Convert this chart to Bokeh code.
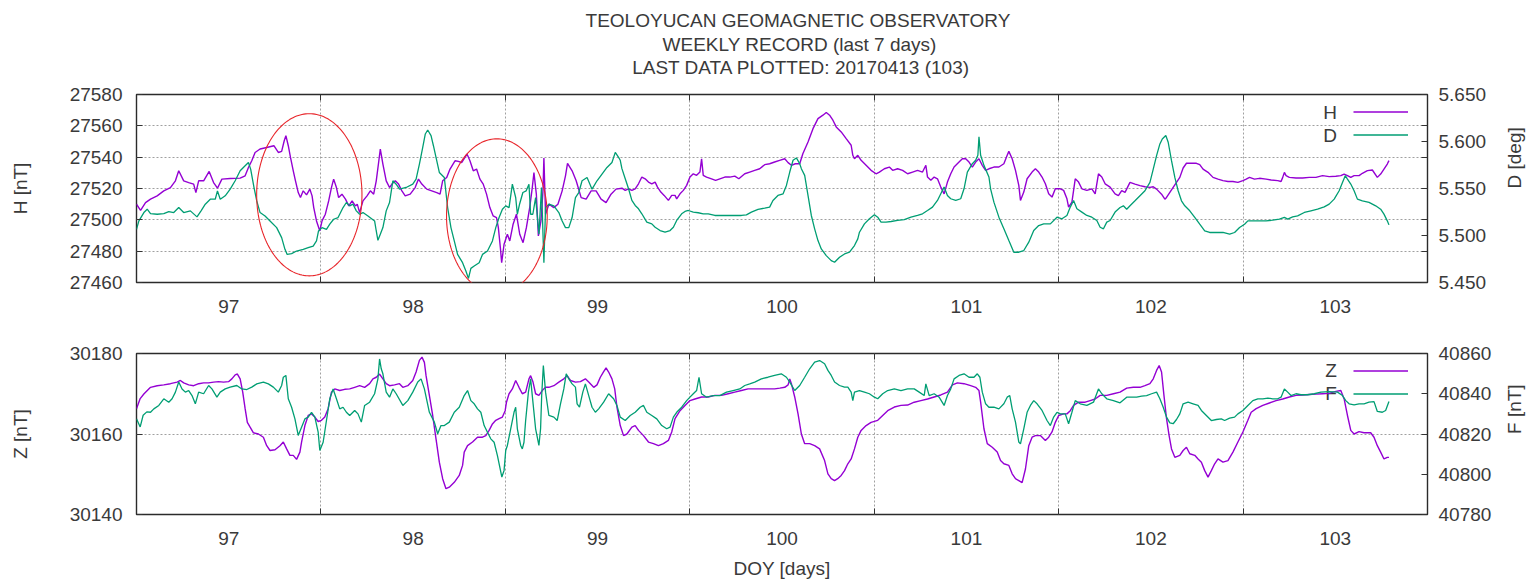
import numpy as np
from bokeh.plotting import figure
from bokeh.models import (Range1d, LinearAxis, FixedTicker, PrintfTickFormatter,
                          Label, PolyAnnotation, Legend, LegendItem)
from bokeh.layouts import column
from bokeh.embed import file_html
from bokeh.resources import INLINE

# ---------------------------------------------------------------- data
# Horizontal component H [nT] (day of year, value)
H_POINTS = [
    (96.500, 27510.0), (96.522, 27506.1), (96.549, 27511.0), (96.576, 27513.2), (96.612, 27515.3),
    (96.648, 27518.5), (96.684, 27520.6), (96.711, 27524.9), (96.729, 27531.3), (96.756, 27524.9),
    (96.783, 27523.8), (96.810, 27522.8), (96.822, 27517.4), (96.837, 27524.9), (96.864, 27524.9),
    (96.894, 27530.9), (96.918, 27523.8), (96.939, 27520.2), (96.963, 27526.0), (97.008, 27526.4),
    (97.062, 27526.6), (97.089, 27528.1), (97.107, 27533.4), (97.125, 27537.7), (97.143, 27543.0),
    (97.170, 27545.2), (97.206, 27546.2), (97.245, 27547.3), (97.269, 27543.0), (97.287, 27543.7),
    (97.301, 27550.5), (97.310, 27553.7), (97.323, 27547.3), (97.335, 27539.8), (97.350, 27531.3),
    (97.362, 27524.9), (97.377, 27517.4), (97.389, 27514.2), (97.404, 27518.5), (97.422, 27515.9),
    (97.440, 27519.6), (97.452, 27515.3), (97.461, 27507.8), (97.476, 27499.3), (97.494, 27492.9),
    (97.506, 27499.3), (97.524, 27503.6), (97.542, 27512.1), (97.557, 27520.6), (97.569, 27526.0),
    (97.584, 27520.6), (97.596, 27514.2), (97.614, 27516.4), (97.633, 27513.2), (97.651, 27508.9),
    (97.669, 27512.1), (97.687, 27508.9), (97.697, 27510.0), (97.710, 27504.6), (97.728, 27512.1),
    (97.750, 27515.3), (97.768, 27518.5), (97.786, 27516.4), (97.800, 27524.9), (97.814, 27537.7),
    (97.822, 27545.2), (97.836, 27535.6), (97.854, 27524.9), (97.872, 27520.6), (97.885, 27522.8),
    (97.903, 27524.9), (97.921, 27522.8), (97.939, 27518.5), (97.957, 27515.3), (97.984, 27516.4),
    (98.011, 27520.6), (98.029, 27526.0), (98.047, 27522.8), (98.074, 27519.6), (98.101, 27518.5),
    (98.128, 27517.4), (98.146, 27516.4), (98.160, 27524.9), (98.182, 27527.0), (98.200, 27532.4),
    (98.227, 27537.7), (98.245, 27537.3), (98.263, 27536.6), (98.281, 27539.8), (98.292, 27542.0),
    (98.308, 27537.7), (98.326, 27531.3), (98.344, 27532.4), (98.362, 27526.0), (98.380, 27522.8),
    (98.398, 27516.4), (98.416, 27507.8), (98.434, 27502.5), (98.452, 27501.4), (98.462, 27495.0),
    (98.473, 27482.2), (98.480, 27472.6), (98.493, 27484.4), (98.511, 27490.8), (98.524, 27486.5),
    (98.542, 27497.2), (98.560, 27503.6), (98.578, 27490.8), (98.596, 27485.4), (98.614, 27495.0),
    (98.632, 27507.8), (98.646, 27520.6), (98.655, 27530.2), (98.668, 27516.4), (98.679, 27489.7),
    (98.693, 27499.3), (98.704, 27518.5), (98.709, 27539.4), (98.718, 27503.6), (98.736, 27510.0),
    (98.763, 27507.8), (98.785, 27510.0), (98.808, 27518.5), (98.826, 27528.1), (98.837, 27536.0),
    (98.862, 27531.3), (98.884, 27524.9), (98.911, 27514.2), (98.938, 27513.2), (98.965, 27518.5),
    (98.992, 27518.5), (99.019, 27513.2), (99.046, 27511.0), (99.073, 27516.4), (99.100, 27519.6),
    (99.132, 27520.2), (99.150, 27518.8), (99.168, 27519.8), (99.186, 27518.8), (99.204, 27519.8),
    (99.222, 27523.0), (99.240, 27527.3), (99.258, 27526.2), (99.276, 27524.1), (99.294, 27523.0),
    (99.312, 27524.1), (99.325, 27520.9), (99.343, 27517.7), (99.361, 27515.6), (99.384, 27512.4),
    (99.402, 27515.6), (99.420, 27515.6), (99.429, 27513.4), (99.447, 27516.6), (99.465, 27518.8),
    (99.483, 27522.0), (99.501, 27527.3), (99.519, 27529.4), (99.537, 27528.4), (99.555, 27530.5),
    (99.564, 27539.0), (99.573, 27528.4), (99.591, 27527.3), (99.618, 27526.2), (99.640, 27525.2),
    (99.663, 27526.2), (99.690, 27527.3), (99.717, 27527.3), (99.744, 27527.9), (99.766, 27526.2),
    (99.798, 27529.4), (99.825, 27530.5), (99.852, 27531.6), (99.879, 27532.6), (99.906, 27535.2),
    (99.933, 27535.8), (99.960, 27536.9), (99.987, 27538.0), (100.015, 27539.0), (100.033, 27536.5),
    (100.051, 27534.8), (100.072, 27535.8), (100.096, 27535.8), (100.113, 27542.2), (100.141, 27549.7),
    (100.168, 27558.2), (100.195, 27564.6), (100.222, 27566.8), (100.240, 27568.5), (100.258, 27566.8),
    (100.276, 27563.6), (100.294, 27559.3), (100.321, 27556.1), (100.348, 27551.8), (100.375, 27547.6),
    (100.384, 27541.2), (100.393, 27539.0), (100.411, 27541.2), (100.429, 27538.0), (100.456, 27534.8),
    (100.483, 27531.6), (100.510, 27529.4), (100.528, 27530.5), (100.555, 27532.6), (100.582, 27533.7),
    (100.600, 27531.6), (100.627, 27532.6), (100.654, 27531.6), (100.681, 27529.4), (100.708, 27530.5),
    (100.735, 27531.6), (100.762, 27530.5), (100.780, 27534.8), (100.789, 27527.3), (100.807, 27525.2),
    (100.825, 27527.3), (100.843, 27526.2), (100.861, 27520.9), (100.879, 27516.6), (100.897, 27524.1),
    (100.915, 27529.4), (100.933, 27533.7), (100.960, 27536.9), (100.978, 27539.0), (100.996, 27539.0),
    (101.014, 27536.9), (101.032, 27533.7), (101.050, 27536.9), (101.068, 27539.0), (101.086, 27534.8),
    (101.104, 27531.6), (101.122, 27532.6), (101.149, 27533.7), (101.176, 27533.7), (101.203, 27535.8),
    (101.221, 27541.2), (101.230, 27543.7), (101.248, 27539.0), (101.266, 27531.6), (101.284, 27522.0),
    (101.293, 27512.4), (101.311, 27517.7), (101.329, 27526.2), (101.356, 27530.5), (101.374, 27532.6),
    (101.392, 27530.5), (101.410, 27527.3), (101.428, 27523.0), (101.446, 27516.6), (101.464, 27514.5),
    (101.482, 27519.8), (101.509, 27519.8), (101.527, 27518.8), (101.545, 27513.4), (101.554, 27508.1),
    (101.572, 27511.3), (101.590, 27526.2), (101.608, 27524.1), (101.626, 27519.8), (101.653, 27518.8),
    (101.680, 27519.8), (101.698, 27516.6), (101.716, 27529.4), (101.734, 27527.3), (101.752, 27523.0),
    (101.779, 27520.9), (101.806, 27516.6), (101.824, 27515.4), (101.842, 27518.6), (101.860, 27517.5),
    (101.878, 27521.8), (101.887, 27523.9), (101.914, 27522.8), (101.941, 27521.8), (101.968, 27521.1),
    (101.995, 27520.7), (102.013, 27521.1), (102.031, 27519.6), (102.058, 27516.4), (102.076, 27513.2),
    (102.085, 27514.3), (102.103, 27517.5), (102.121, 27520.7), (102.139, 27523.9), (102.157, 27527.1),
    (102.175, 27533.1), (102.193, 27536.1), (102.220, 27536.1), (102.247, 27536.1), (102.265, 27535.2),
    (102.283, 27532.4), (102.310, 27530.3), (102.337, 27527.1), (102.364, 27526.0), (102.391, 27525.0),
    (102.418, 27524.5), (102.445, 27524.5), (102.472, 27523.9), (102.499, 27525.0), (102.517, 27526.0),
    (102.535, 27527.1), (102.562, 27526.0), (102.589, 27526.5), (102.625, 27526.0), (102.652, 27525.4),
    (102.688, 27525.0), (102.706, 27524.5), (102.715, 27527.1), (102.724, 27530.3), (102.733, 27528.2),
    (102.751, 27527.1), (102.787, 27526.7), (102.823, 27526.7), (102.859, 27527.1), (102.895, 27527.1),
    (102.931, 27528.2), (102.967, 27527.6), (103.003, 27527.8), (103.030, 27528.2), (103.048, 27529.2),
    (103.066, 27528.2), (103.084, 27527.1), (103.102, 27528.2), (103.129, 27528.2), (103.147, 27529.7),
    (103.174, 27531.4), (103.201, 27531.8), (103.228, 27527.1), (103.246, 27529.2), (103.264, 27532.4),
    (103.282, 27535.6), (103.291, 27537.8),
]

# Declination D [deg]
D_POINTS = [
    (96.500, 5.5066), (96.513, 5.5155), (96.540, 5.5244), (96.558, 5.5280), (96.576, 5.5233),
    (96.612, 5.5226), (96.648, 5.5233), (96.675, 5.5255), (96.702, 5.5244), (96.729, 5.5297),
    (96.756, 5.5244), (96.792, 5.5262), (96.828, 5.5198), (96.850, 5.5262), (96.873, 5.5333),
    (96.900, 5.5386), (96.927, 5.5386), (96.939, 5.5475), (96.954, 5.5386), (96.981, 5.5422),
    (97.008, 5.5493), (97.035, 5.5582), (97.062, 5.5688), (97.089, 5.5742), (97.107, 5.5777),
    (97.119, 5.5706), (97.137, 5.5511), (97.152, 5.5368), (97.170, 5.5244), (97.197, 5.5208),
    (97.224, 5.5155), (97.260, 5.5084), (97.287, 5.4977), (97.305, 5.4853), (97.317, 5.4799),
    (97.341, 5.4807), (97.368, 5.4835), (97.404, 5.4853), (97.431, 5.4871), (97.458, 5.4888),
    (97.476, 5.4942), (97.487, 5.5048), (97.506, 5.5084), (97.530, 5.5066), (97.548, 5.5120),
    (97.569, 5.5173), (97.593, 5.5191), (97.620, 5.5297), (97.638, 5.5351), (97.656, 5.5315),
    (97.674, 5.5333), (97.692, 5.5262), (97.710, 5.5226), (97.728, 5.5244), (97.755, 5.5208),
    (97.791, 5.5155), (97.800, 5.5048), (97.809, 5.4949), (97.822, 5.5013), (97.836, 5.5084),
    (97.854, 5.5262), (97.872, 5.5351), (97.890, 5.5582), (97.908, 5.5546), (97.926, 5.5493),
    (97.962, 5.5511), (97.998, 5.5546), (98.016, 5.5600), (98.034, 5.5760), (98.052, 5.5937),
    (98.066, 5.6080), (98.079, 5.6122), (98.097, 5.6062), (98.110, 5.5955), (98.124, 5.5831),
    (98.142, 5.5671), (98.169, 5.5617), (98.187, 5.5297), (98.205, 5.5084), (98.223, 5.4942),
    (98.241, 5.4799), (98.268, 5.4711), (98.286, 5.4622), (98.300, 5.4543), (98.313, 5.4650),
    (98.331, 5.4675), (98.358, 5.4711), (98.376, 5.4799), (98.403, 5.4835), (98.430, 5.4942),
    (98.448, 5.5084), (98.466, 5.5191), (98.484, 5.5280), (98.502, 5.5315), (98.520, 5.5297),
    (98.538, 5.5546), (98.556, 5.5404), (98.565, 5.5226), (98.577, 5.5333), (98.595, 5.5457),
    (98.613, 5.5475), (98.628, 5.5546), (98.637, 5.5226), (98.649, 5.5226), (98.664, 5.5404),
    (98.682, 5.5013), (98.696, 5.5511), (98.709, 5.4711), (98.718, 5.5297), (98.736, 5.5333),
    (98.763, 5.5315), (98.790, 5.5244), (98.808, 5.5155), (98.826, 5.5084), (98.844, 5.5084),
    (98.862, 5.5191), (98.880, 5.5404), (98.898, 5.5457), (98.916, 5.5582), (98.943, 5.5617),
    (98.970, 5.5493), (98.997, 5.5582), (99.024, 5.5653), (99.051, 5.5724), (99.078, 5.5777),
    (99.096, 5.5884), (99.114, 5.5831), (99.123, 5.5800), (99.132, 5.5711), (99.150, 5.5604),
    (99.168, 5.5497), (99.186, 5.5373), (99.204, 5.5320), (99.222, 5.5284), (99.240, 5.5231),
    (99.267, 5.5142), (99.294, 5.5124), (99.312, 5.5088), (99.339, 5.5053), (99.366, 5.5035),
    (99.393, 5.5053), (99.411, 5.5088), (99.429, 5.5160), (99.456, 5.5231), (99.474, 5.5256),
    (99.492, 5.5266), (99.519, 5.5249), (99.546, 5.5242), (99.573, 5.5231), (99.600, 5.5231),
    (99.636, 5.5213), (99.672, 5.5213), (99.708, 5.5213), (99.744, 5.5213), (99.780, 5.5213),
    (99.807, 5.5220), (99.834, 5.5249), (99.870, 5.5277), (99.906, 5.5291), (99.933, 5.5302),
    (99.951, 5.5373), (99.978, 5.5426), (100.006, 5.5444), (100.024, 5.5533), (100.042, 5.5675),
    (100.060, 5.5800), (100.078, 5.5825), (100.096, 5.5764), (100.105, 5.5711), (100.123, 5.5640),
    (100.141, 5.5426), (100.159, 5.5213), (100.177, 5.5071), (100.195, 5.4946), (100.213, 5.4857),
    (100.240, 5.4786), (100.267, 5.4733), (100.285, 5.4715), (100.312, 5.4768), (100.339, 5.4804),
    (100.366, 5.4822), (100.393, 5.4893), (100.411, 5.4964), (100.420, 5.5035), (100.447, 5.5124),
    (100.474, 5.5178), (100.501, 5.5220), (100.519, 5.5195), (100.537, 5.5142), (100.564, 5.5142),
    (100.591, 5.5149), (100.627, 5.5160), (100.663, 5.5170), (100.699, 5.5195), (100.735, 5.5213),
    (100.762, 5.5231), (100.789, 5.5266), (100.816, 5.5302), (100.843, 5.5373), (100.861, 5.5444),
    (100.879, 5.5515), (100.897, 5.5426), (100.915, 5.5391), (100.942, 5.5373), (100.969, 5.5391),
    (100.987, 5.5497), (101.005, 5.5675), (101.032, 5.5764), (101.050, 5.5800), (101.062, 5.5853),
    (101.068, 5.6049), (101.077, 5.5853), (101.095, 5.5746), (101.122, 5.5622), (101.131, 5.5497),
    (101.149, 5.5355), (101.176, 5.5195), (101.203, 5.5071), (101.230, 5.4946), (101.257, 5.4822),
    (101.284, 5.4822), (101.311, 5.4840), (101.338, 5.4929), (101.365, 5.5053), (101.392, 5.5106),
    (101.419, 5.5124), (101.455, 5.5124), (101.491, 5.5195), (101.518, 5.5178), (101.545, 5.5213),
    (101.563, 5.5302), (101.581, 5.5373), (101.599, 5.5284), (101.626, 5.5249), (101.653, 5.5213),
    (101.680, 5.5195), (101.707, 5.5160), (101.725, 5.5088), (101.743, 5.5071), (101.761, 5.5142),
    (101.779, 5.5160), (101.806, 5.5249), (101.833, 5.5298), (101.851, 5.5316), (101.869, 5.5280),
    (101.887, 5.5316), (101.914, 5.5369), (101.941, 5.5423), (101.968, 5.5476), (101.995, 5.5565),
    (102.013, 5.5707), (102.031, 5.5849), (102.049, 5.5974), (102.062, 5.6027), (102.081, 5.6063),
    (102.094, 5.5992), (102.112, 5.5796), (102.130, 5.5618), (102.148, 5.5476), (102.166, 5.5369),
    (102.184, 5.5316), (102.211, 5.5263), (102.238, 5.5192), (102.265, 5.5120), (102.292, 5.5049),
    (102.319, 5.5032), (102.355, 5.5032), (102.391, 5.5032), (102.427, 5.5014), (102.454, 5.5032),
    (102.481, 5.5085), (102.508, 5.5120), (102.526, 5.5156), (102.553, 5.5156), (102.589, 5.5156),
    (102.625, 5.5156), (102.661, 5.5163), (102.697, 5.5174), (102.724, 5.5192), (102.742, 5.5174),
    (102.769, 5.5199), (102.796, 5.5209), (102.832, 5.5245), (102.868, 5.5263), (102.904, 5.5280),
    (102.940, 5.5305), (102.967, 5.5334), (102.994, 5.5387), (103.021, 5.5476), (103.039, 5.5565),
    (103.054, 5.5636), (103.066, 5.5600), (103.084, 5.5547), (103.102, 5.5476), (103.120, 5.5387),
    (103.147, 5.5369), (103.183, 5.5352), (103.219, 5.5316), (103.246, 5.5280), (103.264, 5.5227),
    (103.282, 5.5156), (103.291, 5.5113),
]

# Vertical component Z [nT]
Z_POINTS = [
    (96.500, 30166.3), (96.520, 30168.8), (96.541, 30170.0), (96.576, 30171.6), (96.612, 30172.0),
    (96.648, 30172.2), (96.684, 30172.5), (96.720, 30172.9), (96.738, 30173.3), (96.756, 30172.7),
    (96.783, 30172.2), (96.810, 30172.0), (96.837, 30172.5), (96.864, 30172.7), (96.891, 30172.7),
    (96.918, 30172.9), (96.945, 30173.0), (96.972, 30172.9), (96.999, 30173.0), (97.017, 30173.7),
    (97.035, 30174.7), (97.047, 30174.9), (97.062, 30173.7), (97.076, 30170.4), (97.089, 30166.3),
    (97.101, 30162.9), (97.116, 30161.7), (97.134, 30160.3), (97.161, 30160.0), (97.188, 30159.2),
    (97.206, 30157.1), (97.224, 30155.9), (97.251, 30156.1), (97.278, 30157.1), (97.296, 30158.0),
    (97.314, 30156.3), (97.332, 30154.7), (97.350, 30154.7), (97.368, 30153.7), (97.386, 30155.5),
    (97.395, 30158.0), (97.413, 30162.1), (97.431, 30164.6), (97.449, 30165.0), (97.467, 30164.2),
    (97.485, 30163.1), (97.503, 30163.4), (97.521, 30164.2), (97.539, 30166.3), (97.557, 30170.4),
    (97.575, 30171.2), (97.602, 30170.8), (97.629, 30171.1), (97.656, 30171.2), (97.683, 30171.6),
    (97.710, 30172.0), (97.737, 30171.6), (97.764, 30172.5), (97.782, 30173.7), (97.800, 30174.1),
    (97.818, 30174.9), (97.836, 30173.7), (97.854, 30172.5), (97.872, 30172.0), (97.899, 30172.2),
    (97.926, 30172.5), (97.944, 30171.6), (97.971, 30172.0), (97.998, 30173.3), (98.016, 30175.4),
    (98.034, 30178.3), (98.048, 30179.1), (98.061, 30177.8), (98.070, 30174.5), (98.088, 30169.6),
    (98.106, 30164.6), (98.124, 30158.8), (98.142, 30153.0), (98.160, 30148.9), (98.178, 30146.4),
    (98.196, 30146.8), (98.223, 30148.0), (98.250, 30149.7), (98.268, 30152.2), (98.277, 30155.5),
    (98.295, 30157.1), (98.322, 30158.0), (98.349, 30159.2), (98.376, 30159.2), (98.394, 30159.6),
    (98.412, 30160.9), (98.430, 30162.5), (98.448, 30163.4), (98.466, 30163.8), (98.484, 30164.2),
    (98.499, 30165.8), (98.506, 30167.9), (98.520, 30170.0), (98.538, 30171.2), (98.556, 30173.3),
    (98.574, 30171.6), (98.592, 30170.0), (98.610, 30170.4), (98.628, 30173.7), (98.637, 30174.5),
    (98.650, 30172.9), (98.664, 30170.0), (98.682, 30169.6), (98.700, 30170.8), (98.718, 30171.6),
    (98.736, 30171.6), (98.763, 30172.0), (98.790, 30172.9), (98.817, 30173.7), (98.835, 30174.5),
    (98.853, 30173.3), (98.880, 30172.9), (98.907, 30173.0), (98.934, 30173.7), (98.952, 30172.9),
    (98.979, 30171.6), (98.997, 30172.2), (99.015, 30174.1), (99.033, 30175.5), (99.046, 30176.4),
    (99.060, 30175.4), (99.078, 30173.7), (99.093, 30171.2), (99.105, 30166.7), (99.123, 30162.1),
    (99.141, 30159.6), (99.159, 30160.0), (99.186, 30161.7), (99.204, 30162.1), (99.222, 30160.9),
    (99.249, 30159.6), (99.276, 30158.0), (99.303, 30157.6), (99.330, 30157.1), (99.357, 30157.6),
    (99.384, 30158.4), (99.402, 30160.5), (99.420, 30163.8), (99.447, 30165.8), (99.474, 30167.1),
    (99.501, 30168.3), (99.528, 30168.7), (99.564, 30169.2), (99.600, 30169.2), (99.636, 30169.6),
    (99.672, 30169.6), (99.708, 30170.0), (99.744, 30170.4), (99.780, 30170.8), (99.816, 30171.2),
    (99.852, 30171.2), (99.888, 30171.2), (99.924, 30171.2), (99.960, 30171.2), (99.988, 30171.4),
    (100.015, 30171.6), (100.033, 30172.2), (100.042, 30173.7), (100.051, 30172.5), (100.069, 30169.2),
    (100.087, 30165.0), (100.105, 30160.0), (100.123, 30157.6), (100.150, 30157.6), (100.177, 30157.1),
    (100.204, 30156.3), (100.231, 30153.4), (100.249, 30150.1), (100.267, 30148.9), (100.285, 30148.4),
    (100.302, 30148.9), (100.321, 30149.7), (100.339, 30150.9), (100.357, 30152.6), (100.375, 30153.8),
    (100.393, 30156.3), (100.411, 30159.2), (100.429, 30160.9), (100.456, 30162.1), (100.483, 30162.9),
    (100.519, 30163.4), (100.546, 30164.6), (100.573, 30165.8), (100.609, 30166.7), (100.645, 30167.1),
    (100.681, 30167.2), (100.717, 30167.9), (100.753, 30168.3), (100.789, 30168.7), (100.825, 30169.2),
    (100.861, 30169.7), (100.897, 30170.4), (100.924, 30172.2), (100.951, 30172.7), (100.987, 30172.5),
    (101.023, 30172.0), (101.050, 30171.6), (101.068, 30170.8), (101.077, 30167.9), (101.095, 30161.3),
    (101.113, 30157.6), (101.140, 30156.7), (101.167, 30155.5), (101.185, 30153.4), (101.203, 30152.6),
    (101.230, 30152.2), (101.248, 30150.1), (101.266, 30148.9), (101.284, 30148.4), (101.302, 30147.9),
    (101.320, 30151.3), (101.338, 30157.1), (101.356, 30159.2), (101.374, 30159.6), (101.401, 30159.6),
    (101.428, 30158.4), (101.446, 30159.2), (101.464, 30160.5), (101.482, 30162.9), (101.500, 30164.6),
    (101.527, 30165.0), (101.545, 30165.0), (101.563, 30165.8), (101.581, 30167.1), (101.608, 30167.9),
    (101.644, 30167.9), (101.671, 30168.3), (101.698, 30168.7), (101.725, 30169.6), (101.761, 30169.6),
    (101.797, 30170.0), (101.833, 30170.4), (101.869, 30171.4), (101.905, 30171.6), (101.941, 30171.6),
    (101.968, 30172.0), (101.995, 30172.5), (102.013, 30173.7), (102.031, 30175.8), (102.045, 30177.0),
    (102.058, 30175.4), (102.071, 30169.6), (102.085, 30163.8), (102.099, 30159.6), (102.112, 30156.3),
    (102.130, 30154.2), (102.157, 30154.7), (102.175, 30155.9), (102.193, 30156.7), (102.211, 30155.1),
    (102.238, 30154.7), (102.256, 30153.8), (102.274, 30153.0), (102.292, 30150.9), (102.310, 30149.3),
    (102.328, 30150.9), (102.346, 30152.6), (102.364, 30153.8), (102.391, 30153.0), (102.418, 30153.4),
    (102.445, 30155.5), (102.472, 30158.0), (102.499, 30160.5), (102.526, 30163.4), (102.544, 30165.4),
    (102.571, 30166.3), (102.607, 30167.1), (102.643, 30167.7), (102.679, 30168.3), (102.715, 30168.7),
    (102.751, 30169.2), (102.787, 30169.6), (102.823, 30169.7), (102.859, 30169.8), (102.895, 30169.9),
    (102.931, 30170.0), (102.967, 30170.1), (103.003, 30170.6), (103.030, 30170.8), (103.048, 30168.7),
    (103.066, 30164.6), (103.084, 30160.9), (103.102, 30160.0), (103.129, 30160.6), (103.156, 30160.3),
    (103.192, 30160.3), (103.210, 30159.2), (103.228, 30157.1), (103.246, 30155.5), (103.264, 30153.8),
    (103.282, 30154.2), (103.291, 30154.2),
]

# Total field F [nT]
F_POINTS = [
    (96.500, 40827.6), (96.520, 40823.5), (96.536, 40829.3), (96.556, 40831.0), (96.576, 40830.8),
    (96.594, 40832.5), (96.621, 40834.2), (96.648, 40837.5), (96.675, 40835.8), (96.693, 40837.5),
    (96.711, 40840.8), (96.729, 40845.8), (96.747, 40842.4), (96.765, 40840.8), (96.783, 40841.6),
    (96.801, 40839.1), (96.819, 40835.0), (96.837, 40840.8), (96.864, 40840.0), (96.891, 40844.1),
    (96.909, 40842.4), (96.936, 40838.3), (96.954, 40840.8), (96.981, 40842.4), (97.008, 40843.3),
    (97.044, 40844.1), (97.071, 40842.4), (97.098, 40842.1), (97.125, 40843.3), (97.152, 40844.9),
    (97.188, 40845.8), (97.215, 40844.9), (97.242, 40843.3), (97.269, 40840.8), (97.287, 40844.1),
    (97.296, 40848.2), (97.310, 40849.1), (97.323, 40837.5), (97.341, 40833.3), (97.359, 40827.5),
    (97.377, 40819.3), (97.395, 40823.4), (97.413, 40827.5), (97.431, 40828.4), (97.449, 40830.8),
    (97.467, 40828.4), (97.485, 40820.9), (97.494, 40811.8), (97.512, 40815.9), (97.530, 40826.7),
    (97.548, 40837.5), (97.566, 40842.4), (97.584, 40837.5), (97.602, 40832.5), (97.620, 40833.3),
    (97.638, 40830.8), (97.656, 40829.2), (97.683, 40831.7), (97.701, 40830.0), (97.719, 40825.9),
    (97.737, 40834.2), (97.764, 40835.8), (97.791, 40840.0), (97.809, 40847.4), (97.818, 40857.3),
    (97.827, 40852.4), (97.836, 40849.9), (97.854, 40840.8), (97.872, 40838.3), (97.890, 40842.4),
    (97.908, 40840.0), (97.944, 40834.2), (97.971, 40836.6), (97.998, 40840.8), (98.025, 40845.8),
    (98.043, 40847.4), (98.061, 40842.4), (98.088, 40830.8), (98.115, 40825.9), (98.133, 40820.1),
    (98.151, 40824.2), (98.169, 40824.2), (98.196, 40825.9), (98.223, 40830.8), (98.250, 40833.3),
    (98.277, 40839.1), (98.295, 40841.6), (98.313, 40836.6), (98.331, 40835.0), (98.349, 40832.5),
    (98.367, 40830.8), (98.385, 40824.2), (98.403, 40820.9), (98.421, 40817.6), (98.439, 40815.9),
    (98.457, 40809.3), (98.481, 40798.6), (98.493, 40801.9), (98.502, 40811.8), (98.511, 40814.3),
    (98.529, 40822.6), (98.547, 40830.8), (98.556, 40833.3), (98.565, 40822.6), (98.583, 40814.3),
    (98.592, 40812.6), (98.601, 40815.9), (98.610, 40826.7), (98.625, 40840.8), (98.637, 40847.4),
    (98.646, 40839.1), (98.664, 40822.6), (98.682, 40814.3), (98.691, 40822.6), (98.697, 40839.1),
    (98.706, 40854.0), (98.718, 40840.8), (98.736, 40829.2), (98.763, 40828.4), (98.781, 40826.7),
    (98.799, 40835.0), (98.817, 40842.4), (98.830, 40849.9), (98.844, 40847.4), (98.862, 40844.9),
    (98.880, 40843.3), (98.889, 40835.0), (98.902, 40833.3), (98.920, 40840.8), (98.934, 40844.9),
    (98.952, 40839.1), (98.970, 40833.3), (98.988, 40830.8), (99.006, 40832.5), (99.033, 40835.8),
    (99.060, 40840.0), (99.087, 40837.5), (99.105, 40834.2), (99.123, 40828.4), (99.150, 40826.7),
    (99.177, 40829.2), (99.204, 40830.8), (99.231, 40833.3), (99.249, 40834.2), (99.267, 40830.8),
    (99.294, 40829.2), (99.321, 40827.5), (99.348, 40824.2), (99.375, 40822.6), (99.393, 40823.4),
    (99.411, 40828.4), (99.429, 40830.8), (99.456, 40833.3), (99.483, 40836.6), (99.501, 40838.3),
    (99.519, 40840.0), (99.537, 40841.6), (99.550, 40848.2), (99.564, 40840.0), (99.591, 40838.3),
    (99.627, 40839.1), (99.663, 40839.1), (99.699, 40840.8), (99.735, 40841.6), (99.771, 40842.4),
    (99.798, 40844.1), (99.825, 40844.9), (99.852, 40845.8), (99.888, 40847.4), (99.924, 40848.2),
    (99.960, 40849.1), (99.996, 40849.9), (100.024, 40848.2), (100.042, 40845.8), (100.069, 40841.6),
    (100.096, 40844.1), (100.123, 40848.2), (100.150, 40852.4), (100.177, 40855.7), (100.204, 40856.5),
    (100.231, 40854.9), (100.249, 40851.6), (100.267, 40849.1), (100.285, 40845.8), (100.312, 40844.1),
    (100.339, 40843.3), (100.357, 40843.3), (100.375, 40840.8), (100.384, 40836.6), (100.393, 40840.8),
    (100.420, 40841.6), (100.447, 40840.8), (100.474, 40840.0), (100.501, 40838.3), (100.519, 40837.5),
    (100.546, 40840.0), (100.573, 40841.6), (100.609, 40842.4), (100.645, 40841.6), (100.681, 40842.4),
    (100.717, 40842.4), (100.744, 40840.8), (100.771, 40839.1), (100.780, 40844.9), (100.798, 40839.1),
    (100.825, 40840.0), (100.852, 40838.3), (100.879, 40834.2), (100.897, 40839.1), (100.915, 40842.4),
    (100.933, 40847.4), (100.960, 40849.1), (100.987, 40849.9), (101.014, 40848.2), (101.041, 40848.2),
    (101.059, 40849.9), (101.073, 40848.2), (101.086, 40840.8), (101.104, 40835.0), (101.122, 40833.3),
    (101.149, 40833.3), (101.176, 40832.5), (101.203, 40835.0), (101.221, 40838.3), (101.235, 40839.1),
    (101.248, 40832.5), (101.266, 40825.9), (101.284, 40816.0), (101.293, 40815.1), (101.311, 40822.6),
    (101.329, 40830.8), (101.347, 40834.2), (101.365, 40836.6), (101.383, 40835.0), (101.410, 40831.7),
    (101.437, 40826.7), (101.455, 40824.2), (101.473, 40828.4), (101.491, 40830.8), (101.509, 40830.0),
    (101.536, 40830.0), (101.554, 40825.1), (101.572, 40830.8), (101.590, 40836.6), (101.617, 40835.0),
    (101.653, 40834.2), (101.689, 40835.8), (101.716, 40842.4), (101.734, 40840.0), (101.761, 40837.5),
    (101.797, 40836.6), (101.833, 40835.5), (101.869, 40838.3), (101.896, 40838.3), (101.923, 40838.3),
    (101.950, 40838.8), (101.977, 40839.1), (102.004, 40840.0), (102.031, 40840.8), (102.049, 40837.5),
    (102.067, 40833.3), (102.085, 40828.4), (102.103, 40825.5), (102.121, 40825.1), (102.139, 40827.2),
    (102.157, 40830.0), (102.175, 40835.0), (102.202, 40835.8), (102.229, 40835.0), (102.256, 40834.2),
    (102.274, 40831.7), (102.301, 40829.2), (102.328, 40826.7), (102.355, 40827.2), (102.382, 40827.5),
    (102.400, 40826.7), (102.427, 40827.9), (102.454, 40828.4), (102.472, 40830.0), (102.499, 40831.7),
    (102.526, 40834.2), (102.553, 40836.6), (102.580, 40837.5), (102.607, 40837.5), (102.634, 40837.8),
    (102.661, 40837.5), (102.688, 40837.5), (102.706, 40838.3), (102.724, 40842.4), (102.742, 40840.8),
    (102.760, 40839.1), (102.787, 40840.0), (102.814, 40839.5), (102.850, 40839.5), (102.886, 40840.0),
    (102.922, 40840.8), (102.967, 40841.1), (103.012, 40840.8), (103.039, 40839.1), (103.057, 40836.6),
    (103.075, 40835.0), (103.102, 40834.5), (103.129, 40835.0), (103.156, 40835.0), (103.183, 40835.8),
    (103.210, 40836.1), (103.228, 40831.2), (103.255, 40830.8), (103.273, 40831.7), (103.291, 40836.1),
]

DAY_LABELS = [97, 98, 99, 100, 101, 102, 103]
DAY_GRID = [97.5, 98.5, 99.5, 100.5, 101.5, 102.5]
H_TICKS = [27460, 27480, 27500, 27520, 27540, 27560, 27580]
D_TICKS = [5.45, 5.50, 5.55, 5.60, 5.65]
Z_TICKS = [30140, 30160, 30180]
F_TICKS = [40780, 40800, 40820, 40840, 40860]

TITLE_LINES = ["TEOLOYUCAN GEOMAGNETIC OBSERVATORY",
               "WEEKLY RECORD (last 7 days)",
               "LAST DATA PLOTTED: 20170413 (103)"]

# highlighted intervals: centre day, centre H, width [days], height [nT]
HIGHLIGHTS = [(97.437, 27516.0, 0.571, 103.5), (98.454, 27502.4, 0.546, 98.6)]

# ---------------------------------------------------------------- style
PURPLE = "#9400d3"
GREEN = "#009e73"
RED = "#e8262b"
TEXT = "#3a3a3a"
FONT = "Liberation Sans"
FS = "19px"
X_RANGE = (96.5, 103.5)
WIDTH = 1538
HEAD_H = 78          # strip holding the three title lines
PX_LEFT, PX_RIGHT = 136, 106


def unzip(points):
    xs, ys = zip(*points)
    return list(xs), list(ys)


def style_axis(ax, ticks, fmt, tick_in=6, standoff=8):
    ax.ticker = FixedTicker(ticks=ticks)
    ax.formatter = PrintfTickFormatter(format=fmt)
    ax.major_tick_in = tick_in
    ax.major_tick_out = 0
    ax.minor_tick_line_color = None
    ax.axis_line_color = None
    ax.major_tick_line_color = "#333333"
    ax.major_tick_line_width = 1
    ax.major_label_text_font = FONT
    ax.major_label_text_font_size = FS
    ax.major_label_text_color = TEXT
    ax.major_label_standoff = standoff
    ax.axis_label_text_font = FONT
    ax.axis_label_text_font_size = FS
    ax.axis_label_text_color = TEXT
    ax.axis_label_text_font_style = "normal"


def tick_only_axis(ticks, **kw):
    # inward tick marks along a frame edge, without labels
    ax = LinearAxis(**kw)
    style_axis(ax, ticks, "%g", tick_in=6, standoff=0)
    ax.major_label_overrides = {t: "" for t in ticks}
    ax.major_label_text_font_size = "0px"
    return ax


def text_label(x, y, text, **kw):
    return Label(x=x, y=y, text=text, text_font=FONT, text_font_size=FS,
                 text_color=TEXT, text_baseline="middle", **kw)


def make_panel(height, top, bottom, y_lo, y_hi, y_ticks, y_label,
               y2_name, y2_lo, y2_hi, y2_ticks, y2_fmt, y2_label, y2_standoff, mirror):
    p = figure(width=WIDTH, height=height, x_range=Range1d(*X_RANGE),
               y_range=Range1d(y_lo, y_hi), output_backend="svg",
               toolbar_location=None, min_border_left=PX_LEFT, min_border_right=PX_RIGHT,
               min_border_top=top, min_border_bottom=bottom)
    p.background_fill_color = "white"
    p.border_fill_color = "white"
    p.outline_line_color = "#2b2b2b"
    p.outline_line_width = 1.4

    # x: tick marks at half days on the frame, day numbers in between
    xt = p.xaxis[0]
    style_axis(xt, DAY_GRID, "%g", tick_in=6, standoff=0)
    xt.major_label_overrides = {t: "" for t in DAY_GRID}
    xt.major_label_text_font_size = "0px"
    xlab = LinearAxis()
    style_axis(xlab, DAY_LABELS, "%d", tick_in=0, standoff=17)
    xlab.major_tick_line_color = None
    p.add_layout(xlab, "below")
    p.add_layout(tick_only_axis(DAY_GRID), "above")

    style_axis(p.yaxis[0], y_ticks, "%d", standoff=14)
    p.yaxis[0].axis_label = y_label
    p.yaxis[0].axis_label_standoff = 36

    p.extra_y_ranges = {y2_name: Range1d(y2_lo, y2_hi)}
    if mirror:
        p.add_layout(tick_only_axis(y_ticks), "right")
    ax2 = LinearAxis(y_range_name=y2_name)
    style_axis(ax2, y2_ticks, y2_fmt, standoff=11)
    ax2.axis_label = y2_label
    ax2.axis_label_standoff = y2_standoff
    try:
        # read bottom-to-top, like the left-hand label
        ax2.axis_label_orientation = np.pi / 2
    except AttributeError:
        pass
    p.add_layout(ax2, "right")

    p.xgrid.ticker = FixedTicker(ticks=DAY_GRID)
    for g in (p.xgrid[0], p.ygrid[0]):
        g.grid_line_color = "#a0a0a0"
        g.grid_line_dash = "2 2"
        g.grid_line_width = 1
    return p, xlab


def add_key(p, renderers, names, label_x, label_ys, loc):
    items = [LegendItem(label=" ", renderers=[r]) for r in renderers]
    key = Legend(items=items, location=loc, glyph_width=55, glyph_height=23,
                 label_height=23, label_width=0, label_standoff=0,
                 label_text_font_size="1px", padding=0, margin=0, spacing=0,
                 border_line_color=None, background_fill_alpha=0)
    p.add_layout(key)
    for name, y in zip(names, label_ys):
        p.add_layout(text_label(label_x, y, name, text_align="right", level="underlay"))


# ---------------------------------------------------------------- title strip
head = figure(width=WIDTH, height=HEAD_H, x_range=Range1d(0, WIDTH),
              y_range=Range1d(HEAD_H, 0), output_backend="svg", toolbar_location=None,
              x_axis_location=None, y_axis_location=None, min_border=0)
head.outline_line_color = None
head.grid.visible = False
for line, (x, y) in zip(TITLE_LINES, [(788, 20), (790, 43.5), (792, 67)]):
    head.add_layout(text_label(x, y, line, text_align="center"))

# ---------------------------------------------------------------- top panel: H and D
h_day, h_nt = unzip(H_POINTS)
d_day, d_deg = unzip(D_POINTS)

top, _ = make_panel(318 - HEAD_H, 94 - HEAD_H, 36, 27460, 27580, H_TICKS, "H [nT]",
                    "d", 5.45, 5.65, D_TICKS, "%.3f", "D [deg]", 25, mirror=True)

rh = top.line(h_day, h_nt, line_color=PURPLE, line_width=1.4)
rd = top.line(d_day, d_deg, y_range_name="d", line_color=GREEN, line_width=1.3)
add_key(top, [rh, rd], ["H", "D"], 103.009, [27568.8, 27554.1], (1217, 136))

t = np.linspace(0, 2 * np.pi, 181)
for cx, cy, w, h in HIGHLIGHTS:
    top.add_layout(PolyAnnotation(xs=list(cx + 0.5 * w * np.cos(t)),
                                  ys=list(cy + 0.5 * h * np.sin(t)),
                                  fill_alpha=0, line_color=RED, line_alpha=1,
                                  line_width=1.1))

# ---------------------------------------------------------------- bottom panel: Z and F
z_day, z_nt = unzip(Z_POINTS)
f_day, f_nt = unzip(F_POINTS)

bottom, xlab = make_panel(265, 35, 69, 30140, 30180, Z_TICKS, "Z [nT]",
                          "f", 40780, 40860, F_TICKS, "%d", "F [nT]", 20, mirror=False)
xlab.axis_label = "DOY [days]"
xlab.axis_label_standoff = 10

rz = bottom.line(z_day, z_nt, line_color=PURPLE, line_width=1.4)
rf = bottom.line(f_day, f_nt, y_range_name="f", line_color=GREEN, line_width=1.3)
add_key(bottom, [rz, rf], ["Z", "F"], 103.009, [30175.8, 30170.1], (1217, 109))

layout = column(head, top, bottom, spacing=0)
open("out.html", "w").write(file_html(layout, INLINE))
